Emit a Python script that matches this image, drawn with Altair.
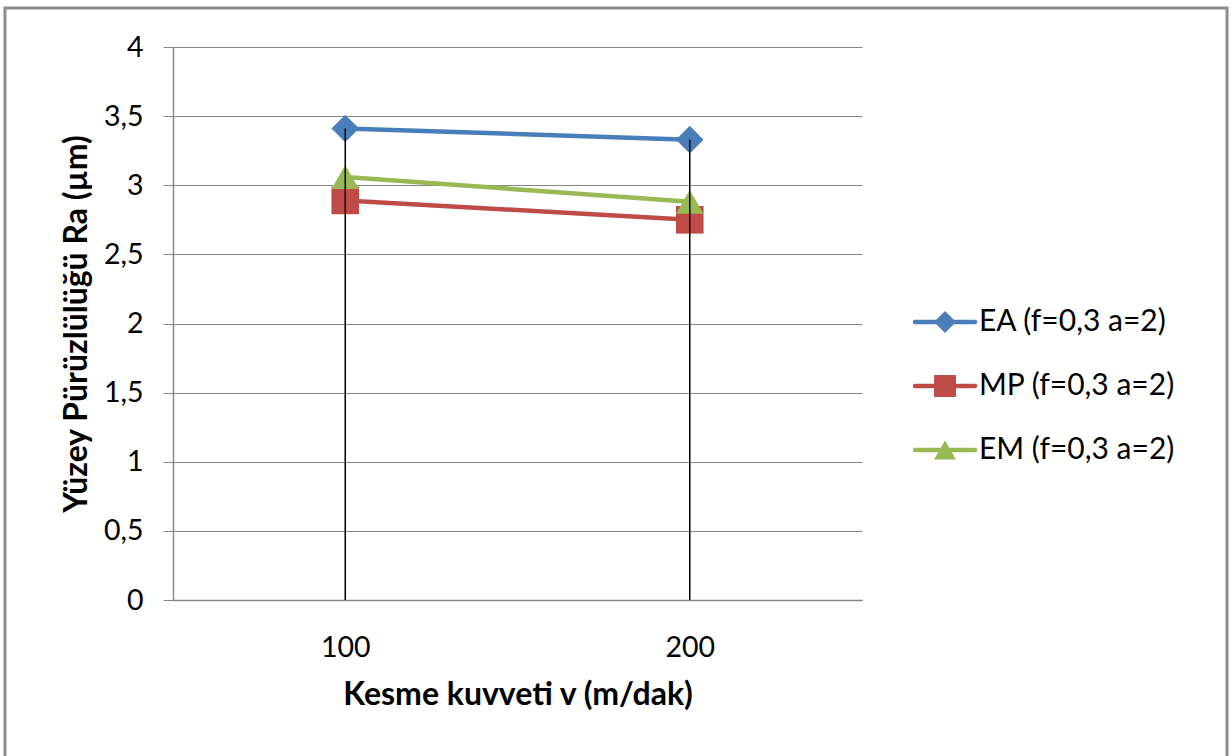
import altair as alt
import pandas as pd

categories = ["100", "200"]
series = ["EA (f=0,3 a=2)", "MP (f=0,3 a=2)", "EM (f=0,3 a=2)"]
ea_values = [3.41, 3.33]
mp_values = [2.89, 2.75]
em_values = [3.06, 2.88]
colors = ["#4A7EBB", "#BE4B48", "#98B954"]
shapes = ["diamond", "square", "triangle-up"]
y_ticks = [0, 0.5, 1, 1.5, 2, 2.5, 3, 3.5, 4]

rows = []
for s, vals in zip(series, [ea_values, mp_values, em_values]):
    for c, v in zip(categories, vals):
        rows.append({"v": c, "series": s, "ra": v})
df = pd.DataFrame(rows)
legend_df = pd.DataFrame({"series": series})
frame_df = pd.DataFrame({"k": [0]})

FONT = "Lato"
W, H = 689, 553
LEFT, TOP = 173, 47

color = alt.Color("series:N", scale=alt.Scale(domain=series, range=colors), legend=None)
shape = alt.Shape("series:N", scale=alt.Scale(domain=series, range=shapes), legend=None)

x = alt.X("v:N", scale=alt.Scale(type="point", domain=categories, padding=0.5),
          axis=alt.Axis(title="Kesme kuvveti v (m/dak)", ticks=False, domainColor="#868686",
                        domainWidth=1.5, labelAngle=0, labelFontSize=28.5, labelFont=FONT,
                        labelColor="#000", labelPadding=33, titleFont=FONT, titleFontSize=32,
                        titleFontWeight="bold", titleColor="#000", titlePadding=18, grid=False))
y = alt.Y("ra:Q", scale=alt.Scale(domain=[0, 4], nice=False),
          axis=alt.Axis(title="Yüzey Pürüzlülüğü  Ra (µm)", values=y_ticks,
                        labelExpr="replace(toString(datum.value), '.', ',')",
                        labelFontSize=28.5, labelFont=FONT, labelColor="#000", labelPadding=20,
                        tickSize=10, tickColor="#868686", domainColor="#868686", domainWidth=1.5,
                        gridColor="#868686", gridWidth=1.2, titleFont=FONT, titleFontSize=32,
                        titleFontWeight="bold", titleColor="#000", titlePadding=10))

base = alt.Chart(df)
lines = base.mark_line(strokeWidth=4.5).encode(x=x, y=y, color=color, detail="series:N")
points = base.mark_point(filled=True, opacity=1, size=760).encode(x=x, y=y, color=color, shape=shape)
drops = base.transform_aggregate(top="max(ra)", groupby=["v"]).mark_rule(
    color="#000", strokeWidth=1.5).encode(x=x, y=alt.Y("top:Q"), y2=alt.datum(0))

main = alt.layer(lines, points, drops)

ly = alt.Y("series:N", scale=alt.Scale(type="point", domain=series, range=[275, 403], padding=0),
           axis=None)
lbase = alt.Chart(legend_df)
lrule = lbase.mark_rule(strokeWidth=4.5, strokeCap="round").encode(
    x=alt.value(742), x2=alt.value(802), y=ly, color=color)
lpoint = lbase.mark_point(filled=True, opacity=1, size=480).encode(
    x=alt.value(772), y=ly, color=color, shape=shape)
ltext = lbase.mark_text(align="left", baseline="middle", font=FONT, fontSize=30,
                        color="#000").encode(x=alt.value(806), y=ly, text="series:N")
legend = alt.layer(lrule, lpoint, ltext)

frame = alt.Chart(frame_df).mark_rect(filled=False, stroke="#8c8c8c", strokeWidth=3).encode(
    x=alt.value(5 - LEFT), x2=alt.value(1227 - LEFT), y=alt.value(8 - TOP), y2=alt.value(770 - TOP))

chart = alt.layer(frame, main, legend).resolve_scale(y="independent").properties(
    width=W, height=H, autosize=alt.AutoSizeParams(type="none"),
    padding={"left": LEFT, "top": TOP, "right": 1232 - LEFT - W, "bottom": 756 - TOP - H},
    background="white"
).configure_view(stroke=None)

chart.save("out.html", embed_options={"renderer": "svg", "actions": False})
